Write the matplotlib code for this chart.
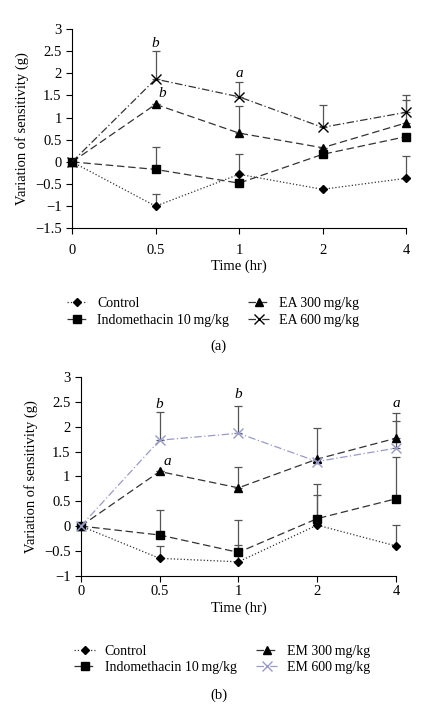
import numpy as np
import matplotlib
matplotlib.use("Agg")
from matplotlib import pyplot as plt

plt.rcParams['font.family'] = ['Liberation Serif', 'DejaVu Serif']
plt.rcParams['font.size'] = 10

times = ['0', '0.5', '1', '2', '4']

# panel (a)
a_control = [0, -1.0, -0.28, -0.62, -0.37]
a_control_err = [0, 0.28, 0.45, 0, 0.50]
a_indo = [0, -0.17, -0.48, 0.17, 0.57]
a_indo_err = [0, 0.50, 0, 0, 0]
a_ea300 = [0, 1.30, 0.65, 0.32, 0.88]
a_ea300_err = [0, 0, 0.62, 0, 0.52]
a_ea600 = [0, 1.87, 1.47, 0.78, 1.12]
a_ea600_err = [0, 0.63, 0.33, 0.51, 0.39]
a_marks = [('b', 1, 2.68), ('b', 1.08, 1.55), ('a', 2, 2.0)]

# panel (b)
b_control = [0, -0.65, -0.72, 0.02, -0.40]
b_control_err = [0, 0.25, 0.34, 0.60, 0.43]
b_indo = [0, -0.18, -0.53, 0.15, 0.55]
b_indo_err = [0, 0.50, 0.66, 0.70, 0.85]
b_em300 = [0, 1.10, 0.77, 1.35, 1.77]
b_em300_err = [0, 0, 0.42, 0.62, 0.51]
b_em600 = [0, 1.73, 1.87, 1.30, 1.57]
b_em600_err = [0, 0.56, 0.55, 0, 0.55]
b_marks = [('b', 1, 2.44), ('a', 1.1, 1.31), ('b', 2, 2.66), ('a', 4, 2.46)]


def panel(ax, series, ylim, yticks, marks, xpad):
    x = np.arange(len(times))
    for vals, err, ls, mk, ms, col, lab in series:
        eb = ax.errorbar(x, vals, yerr=[np.zeros(len(err)), err], fmt='none',
                         ecolor='#555555', elinewidth=0.9, capsize=2.8, capthick=0.9, zorder=2)
        for art in eb.get_children():
            art.set_clip_on(False)
        ax.plot(x, vals, linestyle=ls, color=col if col != '#000000' else '#333333',
                linewidth=0.9, marker=mk, markersize=ms, markerfacecolor=col,
                markeredgecolor=col, markeredgewidth=1.0, label=lab, zorder=3, clip_on=False)
    for txt, xx, yy in marks:
        ax.text(xx, yy, txt, style='italic', fontsize=11, ha='center', va='center')
    ax.set_xlim(0, 4)
    ax.set_ylim(*ylim)
    ax.set_yticks(yticks)
    ax.set_yticklabels([('\u2212' + f'{abs(t):g}') if t < 0 else f'{t:g}' for t in yticks])
    ax.set_xticks(x)
    ax.set_xticklabels(times)
    ax.spines['top'].set_visible(False)
    ax.spines['right'].set_visible(False)
    ax.tick_params(direction='out', length=4, width=0.8, labelsize=10.5)
    ax.tick_params(axis='x', pad=xpad)
    ax.set_ylabel('Variation of sensitivity (g)', fontsize=10.5)
    ax.set_xlabel('Time (hr)', fontsize=10.5, labelpad=2)


fig = plt.figure(figsize=(4.37, 7.09), dpi=100)

ax1 = fig.add_axes([0.165, 0.678, 0.764, 0.281])
s1 = [(a_control, a_control_err, ':', 'D', 4, '#000000', 'Control'),
      (a_indo, a_indo_err, (0, (6, 3)), 's', 6, '#000000', 'Indomethacin 10\u2009mg/kg'),
      (a_ea300, a_ea300_err, (0, (6, 3)), '^', 6, '#000000', 'EA 300\u2009mg/kg'),
      (a_ea600, a_ea600_err, (0, (6, 2, 1, 2)), 'x', 6.5, '#000000', 'EA 600\u2009mg/kg')]
panel(ax1, s1, (-1.5, 3), np.arange(-1.5, 3.01, 0.5), a_marks, 7)
h, l = ax1.get_legend_handles_labels()
fig.legend(h, l, ncol=2, frameon=False, loc='center', bbox_to_anchor=(0.487, 0.560),
           fontsize=10, handlelength=1.5, handletextpad=0.7, columnspacing=1.4,
           labelspacing=0.25)
fig.text(0.5, 0.511, '(a)', ha='center', va='center', fontsize=10.5)

ax2 = fig.add_axes([0.185, 0.188, 0.721, 0.280])
s2 = [(b_control, b_control_err, ':', 'D', 4, '#000000', 'Control'),
      (b_indo, b_indo_err, (0, (6, 3)), 's', 6, '#000000', 'Indomethacin 10\u2009mg/kg'),
      (b_em300, b_em300_err, (0, (6, 3)), '^', 6, '#000000', 'EM 300\u2009mg/kg'),
      (b_em600, b_em600_err, (0, (6, 2, 1, 2)), 'x', 6.5, '#9a9ac8', 'EM 600\u2009mg/kg')]
panel(ax2, s2, (-1, 3), np.arange(-1, 3.01, 0.5), b_marks, 3)
h, l = ax2.get_legend_handles_labels()
fig.legend(h, l, ncol=2, frameon=False, loc='center', bbox_to_anchor=(0.508, 0.070),
           fontsize=10, handlelength=1.5, handletextpad=0.7, columnspacing=1.4,
           labelspacing=0.25)
fig.text(0.5, 0.020, '(b)', ha='center', va='center', fontsize=10.5)

fig.savefig('out.png', dpi=100)
